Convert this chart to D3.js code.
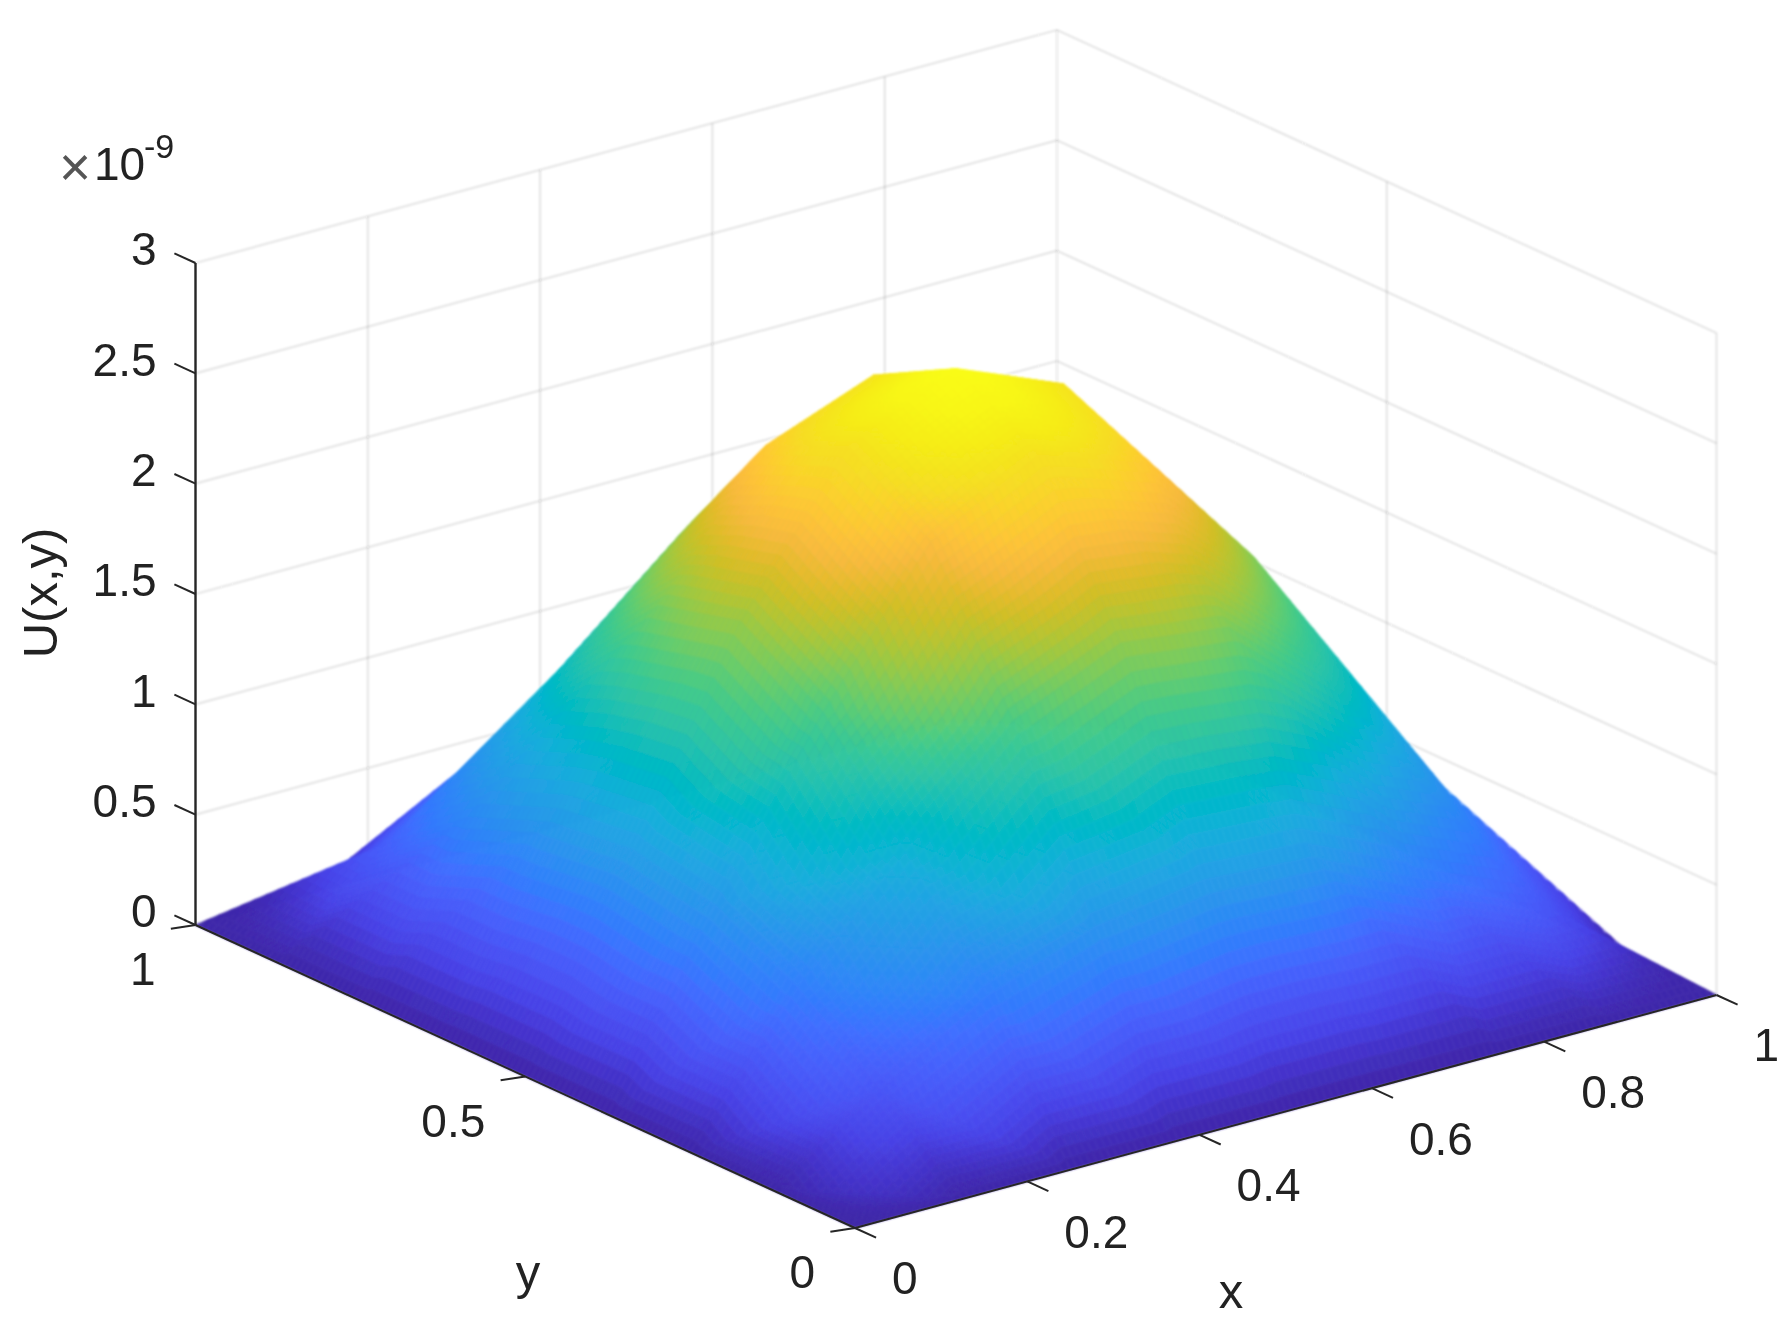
<!DOCTYPE html>
<html>
<head>
<meta charset="utf-8">
<script src="https://cdnjs.cloudflare.com/ajax/libs/d3/7.8.5/d3.min.js"></script>
<style>
html,body{margin:0;padding:0;background:#fff}
text{font-family:"Liberation Sans",Arial,sans-serif;fill:#222}
</style>
</head>
<body>
<svg id="chart" width="1789" height="1328" viewBox="0 0 1789 1328"></svg>
<script>
// ---- data ----
const gridX = [0, 0.125, 0.25, 0.375, 0.5, 0.625, 0.75, 0.875, 1];
const gridY = [0, 0.125, 0.25, 0.375, 0.5, 0.625, 0.75, 0.875, 1];
// U(x,y) in units of 1e-9; rows follow gridY, columns follow gridX
const surfaceZ = [
  [0, 0,     0,     0,     0,     0,     0,     0,     0],
  [0, 0.330, 0.620, 0.800, 0.880, 0.850, 0.620, 0.408, 0],
  [0, 0.620, 1.100, 1.560, 1.780, 1.720, 1.290, 0.732, 0],
  [0, 0.820, 1.560, 2.200, 2.460, 2.293, 1.735, 0.967, 0],
  [0, 0.900, 1.800, 2.460, 2.680, 2.479, 1.876, 1.045, 0],
  [0, 0.850, 1.700, 2.293, 2.479, 2.293, 1.735, 0.967, 0],
  [0, 0.700, 1.313, 1.735, 1.876, 1.735, 1.313, 0.732, 0],
  [0, 0.408, 0.732, 0.967, 1.045, 0.967, 0.732, 0.408, 0],
  [0, 0,     0,     0,     0,     0,     0,     0,     0]
];
const xTicks = [0, 0.2, 0.4, 0.6, 0.8, 1];
const xTickLabels = ["0", "0.2", "0.4", "0.6", "0.8", "1"];
const yTicks = [0, 0.5, 1];
const yTickLabels = ["0", "0.5", "1"];
const zTicks = [0, 0.5, 1, 1.5, 2, 2.5, 3];
const zTickLabels = ["0", "0.5", "1", "1.5", "2", "2.5", "3"];
const xLabel = "x", yLabel = "y", zLabel = "U(x,y)";
const parulaColors = [
  [0.2422,0.1504,0.6603],[0.2647,0.1978,0.7952],[0.2783,0.2559,0.8991],[0.2813,0.3006,0.9414],
  [0.2795,0.3447,0.9717],[0.2699,0.3892,0.9906],[0.2440,0.4358,0.9988],[0.1963,0.4847,0.9892],
  [0.1786,0.5289,0.9682],[0.1687,0.5703,0.9359],[0.1460,0.6091,0.9079],[0.1248,0.6459,0.8883],
  [0.0952,0.6798,0.8598],[0.0297,0.7082,0.8163],[0.0067,0.7312,0.7660],[0.0964,0.7500,0.7120],
  [0.1717,0.7670,0.6554],[0.2161,0.7843,0.5923],[0.2906,0.7973,0.5188],[0.3909,0.8029,0.4354],
  [0.5044,0.7993,0.3480],[0.6174,0.7876,0.2612],[0.7242,0.7698,0.1910],[0.8203,0.7498,0.1535],
  [0.9035,0.7330,0.1774],[0.9728,0.7298,0.2394],[0.9970,0.7659,0.2199],[0.9892,0.8136,0.1786],
  [0.9676,0.8639,0.1450],[0.9600,0.9000,0.1100],[0.9650,0.9400,0.0900],[0.9769,0.9839,0.0805]
];

// ---- oblique projection built from d3 scales ----
const sxX = d3.scaleLinear([0, 1], [855, 1716.5]);
const sxY = d3.scaleLinear([0, 1], [0, -659.5]);
const syX = d3.scaleLinear([0, 1], [1228, 995]);
const syY = d3.scaleLinear([0, 1], [0, -303]);
const syZ = d3.scaleLinear([0, 3], [0, -662]);
const project = (x, y, z) => [sxX(x) + sxY(y), syX(x) + syY(y) + syZ(z)];

const zMax = d3.max(surfaceZ.flat());
const colorOf = d3.scaleLinear()
  .domain(parulaColors.map((_, i) => i / (parulaColors.length - 1) * zMax))
  .range(parulaColors.map(c => d3.rgb(c[0] * 255, c[1] * 255, c[2] * 255)))
  .clamp(true);

const svg = d3.select("#chart");
const defs = svg.append("defs");
const addBlur = (id, sd) => defs.append("filter").attr("id", id)
  .attr("filterUnits", "userSpaceOnUse").attr("x", 0).attr("y", 0).attr("width", 1789).attr("height", 1328)
  .append("feGaussianBlur").attr("stdDeviation", sd);
addBlur("soft", 0.85);
addBlur("softText", 0.45);
svg.append("rect").attr("width", 1789).attr("height", 1328).attr("fill", "#fff");
const backLayer = svg.append("g").attr("filter", "url(#soft)");
const frontLayer = svg.append("g").attr("filter", "url(#softText)");

// ---- back-wall grid ----
const grid = backLayer.append("g").attr("fill", "none").attr("stroke", "#262626")
  .attr("stroke-opacity", 0.13).attr("stroke-width", 1.7);
const seg = (g, a, b) => g.append("line")
  .attr("x1", a[0]).attr("y1", a[1]).attr("x2", b[0]).attr("y2", b[1]);
zTicks.forEach(z => {
  seg(grid, project(0, 1, z), project(1, 1, z));
  seg(grid, project(1, 1, z), project(1, 0, z));
});
xTicks.filter(x => x > 0).forEach(x => seg(grid, project(x, 1, 0), project(x, 1, 3)));
yTicks.filter(y => y < 1).forEach(y => seg(grid, project(1, y, 0), project(1, y, 3)));

// ---- surface: triangulated mesh with interpolated shading, painted back to front ----
const SUB = 16;
const nX = gridX.length, nY = gridY.length;
const clampI = (i, n) => Math.max(0, Math.min(n - 1, i));
const cr = (p0, p1, p2, p3, t) =>
  0.5 * (2 * p1 + (p2 - p0) * t + (2 * p0 - 5 * p1 + 4 * p2 - p3) * t * t + (3 * p1 - p0 - 3 * p2 + p3) * t * t * t);
function smoothZ(iy, ix, ty, tx) {
  const rows = [];
  for (let r = -1; r <= 2; r++) {
    const row = surfaceZ[clampI(iy + r, nY)];
    rows.push(cr(row[clampI(ix - 1, nX)], row[ix], row[clampI(ix + 1, nX)], row[clampI(ix + 2, nX)], tx));
  }
  return cr(rows[0], rows[1], rows[2], rows[3], ty);
}
// each mesh quad is folded along its x+y = const diagonal
function meshZ(iy, ix, ty, tx) {
  const a = surfaceZ[iy][ix], b = surfaceZ[iy][ix + 1], c = surfaceZ[iy + 1][ix], d = surfaceZ[iy + 1][ix + 1];
  return tx + ty <= 1
    ? a + (b - a) * tx + (c - a) * ty
    : d + (c - d) * (1 - tx) + (b - d) * (1 - ty);
}
const cells = [];
for (let iy = nY - 2; iy >= 0; iy--) {
  for (let sy = SUB - 1; sy >= 0; sy--) {
    for (let ix = nX - 2; ix >= 0; ix--) {
      for (let sx = SUB - 1; sx >= 0; sx--) {
        const pt = (a, b) => project(
          gridX[ix] + (gridX[ix + 1] - gridX[ix]) * a / SUB,
          gridY[iy] + (gridY[iy + 1] - gridY[iy]) * b / SUB,
          meshZ(iy, ix, b / SUB, a / SUB));
        const p00 = pt(sx, sy), p10 = pt(sx + 1, sy), p11 = pt(sx + 1, sy + 1), p01 = pt(sx, sy + 1);
        cells.push({
          polys: [[p00, p10, p01], [p10, p11, p01]],
          c: colorOf(smoothZ(iy, ix, (sy + 0.5) / SUB, (sx + 0.5) / SUB))
        });
      }
    }
  }
}
const polyLine = d3.line();
backLayer.append("g").selectAll("path").data(cells).join("path")
  .attr("d", d => d.polys.map(p => polyLine(p) + "Z").join(""))
  .attr("fill", d => d.c).attr("stroke", d => d.c).attr("stroke-width", 0.6);

// ---- axes ----
const axes = frontLayer.append("g").attr("stroke", "#262626").attr("stroke-width", 2).attr("fill", "none");
seg(axes, project(0, 0, 0), project(1, 0, 0));
seg(axes, project(0, 0, 0), project(0, 1, 0));
seg(axes, project(0, 1, 0), project(0, 1, 3)).attr("stroke-width", 2.4);
const TICK_X = 0.032, TICK_Y = 0.024, TICK_Z = 0.032;
xTicks.forEach(x => seg(axes, project(x, 0, 0), project(x, -TICK_X, 0)));
yTicks.forEach(y => seg(axes, project(0, y, 0), project(-TICK_Y, y + 0.006, 0)));
zTicks.forEach(z => seg(axes, project(0, 1, z), project(0, 1 + TICK_Z, z)));

// ---- tick labels ----
const labels = frontLayer.append("g").attr("font-size", 46);
xTicks.forEach((x, i) => {
  const p = project(x, 0, 0);
  labels.append("text").attr("x", p[0] + 37).attr("y", p[1] + 50)
    .attr("dy", "0.358em").text(xTickLabels[i]);
});
yTicks.forEach((y, i) => {
  const p = project(0, y, 0);
  labels.append("text").attr("x", p[0] - 40).attr("y", p[1] + 44)
    .attr("dy", "0.358em").attr("text-anchor", "end").text(yTickLabels[i]);
});
zTicks.forEach((z, i) => {
  const p = project(0, 1, z);
  labels.append("text").attr("x", p[0] - 39).attr("y", p[1] - 14)
    .attr("dy", "0.358em").attr("text-anchor", "end").text(zTickLabels[i]);
});

// ---- axis titles ----
const titles = frontLayer.append("g").attr("font-size", 49).attr("text-anchor", "middle");
titles.append("text").attr("x", 1231).attr("y", 1308).text(xLabel);
titles.append("text").attr("x", 528).attr("y", 1289).text(yLabel);
titles.append("text").attr("transform", "translate(57,593) rotate(-90)").text(zLabel);

// ---- exponent ----
frontLayer.append("text").attr("x", 59).attr("y", 186).attr("font-size", 55).style("fill", "#555").text("×");
frontLayer.append("text").attr("x", 94).attr("y", 180).attr("font-size", 46).text("10");
frontLayer.append("text").attr("x", 144).attr("y", 158).attr("font-size", 34).text("-9");
</script>
</body>
</html>
